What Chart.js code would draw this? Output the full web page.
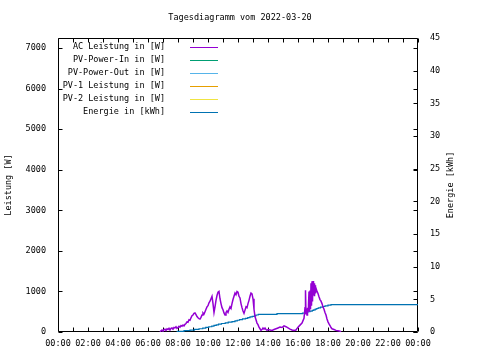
<!DOCTYPE html>
<html>
<head>
<meta charset="utf-8">
<script src="https://cdn.jsdelivr.net/npm/chart.js@4.4.1/dist/chart.umd.min.js"></script>
<style>
  html, body { margin: 0; padding: 0; background: #fff; }
  #wrap { width: 480px; height: 360px; }
</style>
</head>
<body>
<div id="wrap"><canvas id="chart" width="480" height="360"></canvas></div>
<script>
// Data
const TITLE = 'Tagesdiagramm vom 2022-03-20';
const Y_TITLE = 'Leistung [W]';
const Y2_TITLE = 'Energie [kWh]';
const seriesLabels = ['AC Leistung in [W]', 'PV-Power-In in [W]', 'PV-Power-Out in [W]',
    'PV-1 Leistung in [W]', 'PV-2 Leistung in [W]', 'Energie in [kWh]'];
const seriesColors = ['#9400d3', '#009e73', '#56b4e9', '#e69f00', '#f0e442', '#0072b2'];

const xTicks = [0,1,2,3,4,5,6,7,8,9,10,11,12,13,14,15,16,17,18,19,20,21,22,23,24];
const yTicks = [0,1000,2000,3000,4000,5000,6000,7000];
const y2Ticks = [0,5,10,15,20,25,30,35,40,45];

const acTimes = ['06:48','06:52','06:56','07:00','07:04','07:08','07:12','07:16','07:20','07:24','07:28','07:32',
    '07:36','07:40','07:44','07:48','07:52','07:56','08:00','08:04','08:08','08:12','08:16','08:20','08:24','08:28',
    '08:32','08:36','08:40','08:44','08:48','08:52','08:56','09:00','09:04','09:08','09:12','09:16','09:20','09:24',
    '09:28','09:32','09:36','09:40','09:44','09:48','09:52','09:56','10:00','10:04','10:08','10:12','10:16','10:20',
    '10:24','10:28','10:32','10:36','10:40','10:44','10:48','10:52','10:56','11:00','11:04','11:08','11:12','11:16',
    '11:20','11:24','11:28','11:32','11:36','11:40','11:44','11:48','11:52','11:56','12:00','12:04','12:08','12:12',
    '12:16','12:20','12:24','12:28','12:32','12:36','12:40','12:44','12:48','12:52','12:56','13:00','13:04','13:08',
    '13:12','13:16','13:20','13:24','13:28','13:32','13:36','13:40','13:44','13:48','13:52','13:56','14:00','14:08',
    '14:16','14:24','14:32','14:40','14:48','14:56','15:04','15:12','15:20','15:28','15:36','15:44','15:52','16:00',
    '16:08','16:16','16:20','16:24','16:28','16:30','16:32','16:34','16:36','16:38','16:40','16:42','16:44','16:46',
    '16:48','16:50','16:52','16:54','16:56','16:58','17:00','17:02','17:04','17:06','17:08','17:10','17:12','17:16',
    '17:20','17:24','17:28','17:32','17:36','17:40','17:44','17:48','17:52','17:56','18:00','18:04','18:08','18:12',
    '18:16','18:24','18:32','18:40','18:48','18:52'];
const acPower = [0,30,50,20,60,70,40,80,60,90,50,90,
    100,70,110,100,130,90,110,140,120,160,140,170,150,190,
    210,250,240,300,290,350,400,420,460,470,430,380,350,330,
    320,360,420,470,440,500,560,620,650,720,760,820,880,700,
    480,620,780,900,980,1000,820,700,600,550,470,420,480,520,
    480,560,620,580,700,800,880,960,920,1000,980,880,840,700,
    600,520,460,540,620,600,700,780,880,960,940,820,560,380,
    300,220,180,120,80,40,60,100,70,100,60,40,60,50,
    40,60,80,100,120,110,150,130,100,70,50,40,50,120,
    170,220,280,340,600,1030,450,560,420,600,520,680,1000,500,
    1020,560,1200,650,1250,750,1260,900,1200,880,1150,950,1080,1000,
    950,870,800,760,700,620,560,480,420,320,250,200,160,110,
    80,60,40,30,20,0];

const energyTimes = ['07:57','08:24','08:48','09:06','09:24','09:39','09:51','10:03','10:15','10:24','10:33','10:42',
    '10:54','11:09','11:21','11:36','11:48','11:57','12:06','12:18','12:30','12:39','12:48','12:57','13:06','13:12',
    '13:21','14:36','16:18','16:30','16:39','16:48','16:57','17:03','17:09','17:15','17:21','17:30','17:39','17:48',
    '18:00','18:12','18:30','24:00'];
const energyKwh = [0,0.1,0.2,0.3,0.4,0.5,0.6,0.7,0.8,0.9,1.0,1.1,
    1.2,1.3,1.4,1.5,1.6,1.7,1.8,1.9,2.0,2.1,2.2,2.3,2.4,2.5,
    2.6,2.7,2.8,2.9,3.0,3.1,3.2,3.3,3.4,3.5,3.6,3.7,3.8,3.9,
    4.0,4.1,4.2,4.2];

const X_MIN = 0, X_MAX = 24;
const Y_MAX = 7250;
const Y2_MAX = 45;

// Helpers
const toHours = s => { const [h, m] = s.split(':').map(Number); return h + m / 60; };
const zip = (times, vals) => times.map((t, i) => ({ x: toHours(t), y: vals[i] }));
const hhmm = v => String(Math.round(v) % 24).padStart(2, '0') + ':00';
const fixedTicks = list => s => { s.ticks = list.map(value => ({ value })); };

const FONT = 'DejaVu Sans Mono';
const font = { family: FONT, size: 8.5, weight: 'normal' };

// Frame, inward ticks, legend and right title (gnuplot look)
const gnuplotDeco = {
    id: 'gnuplotDeco',
    beforeDatasetsDraw(chart) {
        const { ctx, chartArea: a, scales } = chart;
        const L = Math.round(a.left) + 0.5, R = Math.round(a.right) - 0.5;
        const T = Math.round(a.top) + 0.5, B = Math.round(a.bottom) - 0.5;
        ctx.save();
        ctx.strokeStyle = '#000';
        ctx.lineWidth = 1;
        ctx.beginPath();
        ctx.rect(L, T, R - L, B - T);
        const tl = 4;
        scales.x.ticks.forEach(t => {
            const px = Math.round(scales.x.getPixelForValue(t.value)) + 0.5;
            ctx.moveTo(px, B); ctx.lineTo(px, B - tl);
            ctx.moveTo(px, T); ctx.lineTo(px, T + tl);
        });
        scales.y.ticks.forEach(t => {
            const py = Math.round(scales.y.getPixelForValue(t.value)) + 0.5;
            ctx.moveTo(L, py); ctx.lineTo(L + tl, py);
            ctx.moveTo(R, py); ctx.lineTo(R - tl, py);
        });
        scales.y2.ticks.forEach(t => {
            const py = Math.round(scales.y2.getPixelForValue(t.value)) + 0.5;
            ctx.moveTo(R, py); ctx.lineTo(R - tl, py);
        });
        ctx.stroke();
        ctx.restore();
    },
    afterDraw(chart) {
        const { ctx, chartArea: a } = chart;
        ctx.save();
        ctx.font = `8.5px "${FONT}"`;
        ctx.fillStyle = '#000';
        ctx.textBaseline = 'middle';
        // legend
        chart.data.datasets.forEach((ds, i) => {
            const y = 47 + i * 13;
            ctx.textAlign = 'right';
            ctx.fillText(ds.label, 165, y);
            ctx.strokeStyle = ds.borderColor;
            ctx.lineWidth = 1;
            ctx.beginPath();
            ctx.moveTo(190, Math.round(y) + 0.5);
            ctx.lineTo(218, Math.round(y) + 0.5);
            ctx.stroke();
        });
        // right axis title, reading bottom to top
        ctx.translate(451, (a.top + a.bottom) / 2);
        ctx.rotate(-Math.PI / 2);
        ctx.textAlign = 'center';
        ctx.fillText(Y2_TITLE, 0, 0);
        ctx.restore();
    }
};

const datasets = seriesLabels.map((label, i) => ({
    label,
    data: [],
    borderColor: seriesColors[i],
    backgroundColor: seriesColors[i],
    borderWidth: 1,
    pointRadius: 0,
    tension: 0,
    yAxisID: 'y'
}));
datasets[0].data = zip(acTimes, acPower);
datasets[0].borderWidth = 1.5;
datasets[5].data = zip(energyTimes, energyKwh);
datasets[5].yAxisID = 'y2';
datasets[5].stepped = 'after';
datasets[5].borderWidth = 1.2;

new Chart(document.getElementById('chart'), {
    type: 'line',
    data: { datasets },
    plugins: [gnuplotDeco],
    options: {
        responsive: false,
        animation: false,
        devicePixelRatio: 1,
        layout: { padding: 0 },
        plugins: {
            legend: { display: false },
            tooltip: { enabled: false },
            title: {
                display: true,
                text: TITLE,
                color: '#000',
                font: { ...font, lineHeight: '10px' },
                padding: { top: 13, bottom: 15 }
            }
        },
        scales: {
            x: {
                type: 'linear',
                position: 'bottom',
                min: X_MIN, max: X_MAX,
                border: { display: false },
                grid: { display: false, drawTicks: false },
                afterBuildTicks: fixedTicks(xTicks),
                ticks: {
                    autoSkip: false, maxRotation: 0, padding: 7,
                    color: '#000', font,
                    callback: v => (v % 2 === 0 ? hhmm(v) : '')
                },
                afterFit: s => { s.height = 28; }
            },
            y: {
                position: 'left',
                min: 0, max: Y_MAX,
                border: { display: false },
                grid: { display: false, drawTicks: false },
                afterBuildTicks: fixedTicks(yTicks),
                ticks: { padding: 12, color: '#000', font, callback: v => String(v) },
                title: {
                    display: true, text: Y_TITLE, color: '#000',
                    font: { ...font, lineHeight: '10px' },
                    padding: { top: 4, bottom: 0 }
                },
                afterFit: s => { s.width = 58; }
            },
            y2: {
                position: 'right',
                min: 0, max: Y2_MAX,
                border: { display: false },
                grid: { display: false, drawTicks: false },
                afterBuildTicks: fixedTicks(y2Ticks),
                ticks: { padding: 12, color: '#000', font, callback: v => String(v) },
                afterFit: s => { s.width = 62; }
            }
        }
    }
});
</script>
</body>
</html>
